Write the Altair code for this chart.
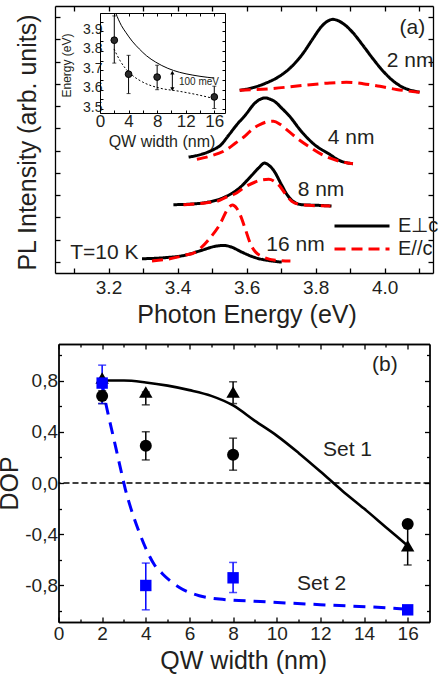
import altair as alt
import pandas as pd

FONT = "Liberation Sans"
INK = "#231f20"
RED = "#ff0000"
BLUE = "#0000ff"

# ================= Panel (a): PL spectra =================
POL = ["E\u22a5c", "E//c"]

E_2_PERP = [3.580, 3.618, 3.657, 3.696, 3.734, 3.763, 3.792, 3.816, 3.836, 3.850,
            3.865, 3.884, 3.908, 3.937, 3.966, 3.995, 4.024, 4.053, 4.082, 4.101]
I_2_PERP = [7.71, 7.83, 8.04, 8.35, 8.83, 9.36, 10.03, 10.56, 10.83, 10.90,
            10.84, 10.66, 10.30, 9.73, 9.13, 8.58, 8.14, 7.84, 7.69, 7.63]
E_2_PAR = [3.580, 3.667, 3.763, 3.841, 3.889, 3.937, 3.986, 4.034, 4.101]
I_2_PAR = [7.71, 7.78, 7.93, 8.04, 8.07, 8.01, 7.89, 7.75, 7.62]

E_4_PERP = [3.432, 3.461, 3.499, 3.525, 3.548, 3.571, 3.596, 3.625, 3.641, 3.654,
            3.667, 3.683, 3.701, 3.722, 3.760, 3.799, 3.838, 3.867, 3.908]
I_4_PERP = [4.71, 4.80, 5.01, 5.25, 5.69, 6.15, 6.59, 7.15, 7.32, 7.37,
            7.32, 7.19, 6.92, 6.59, 5.84, 5.24, 4.86, 4.57, 4.41]
E_4_PAR = [3.456, 3.496, 3.538, 3.568, 3.596, 3.617, 3.640, 3.658, 3.678, 3.698,
           3.724, 3.751, 3.778, 3.826, 3.867, 3.908]
I_4_PAR = [4.61, 4.76, 5.01, 5.34, 5.66, 5.97, 6.18, 6.29, 6.32, 6.17,
           5.84, 5.50, 5.21, 4.76, 4.53, 4.41]

E_8_PERP = [3.388, 3.441, 3.490, 3.538, 3.577, 3.615, 3.635, 3.652, 3.664, 3.678,
            3.702, 3.716, 3.731, 3.760, 3.809, 3.846]
I_8_PERP = [2.57, 2.60, 2.69, 2.92, 3.29, 3.89, 4.22, 4.44, 4.35, 4.12,
            3.44, 3.05, 2.77, 2.57, 2.54, 2.51]
E_8_PAR = [3.417, 3.480, 3.514, 3.543, 3.567, 3.596, 3.625, 3.643, 3.664, 3.683,
           3.696, 3.707, 3.731, 3.754, 3.780, 3.843]
I_8_PAR = [2.57, 2.65, 2.72, 2.92, 3.06, 3.37, 3.59, 3.68, 3.71, 3.59,
           3.41, 3.17, 2.72, 2.58, 2.54, 2.51]

E_16_PERP = [3.297, 3.364, 3.422, 3.470, 3.509, 3.533, 3.557, 3.586, 3.625, 3.673, 3.702]
I_16_PERP = [0.14, 0.19, 0.30, 0.52, 0.70, 0.74, 0.66, 0.44, 0.19, 0.04, -0.01]
E_16_PAR = [3.326, 3.374, 3.422, 3.450, 3.470, 3.490, 3.521, 3.548, 3.559, 3.571,
            3.582, 3.596, 3.611, 3.626, 3.644, 3.683, 3.727]
I_16_PAR = [0.04, 0.13, 0.30, 0.42, 0.66, 1.00, 1.64, 2.43, 2.56, 2.42,
            2.09, 1.49, 0.82, 0.44, 0.25, 0.07, 0.04]

A_TICKS_X = [3.1, 3.2, 3.3, 3.4, 3.5, 3.6, 3.7, 3.8, 3.9, 4.0, 4.1]
A_TICKS_Y = [0, 1, 2, 3, 4, 5, 6, 7, 8, 9, 10, 11]

A_TEXT = ["2 nm", "4 nm", "8 nm", "16 nm", "T=10 K", "(a)"]
A_TEXT_E = [4.006, 3.835, 3.748, 3.657, 3.089, 4.043]
A_TEXT_I = [9.03, 5.57, 3.23, 0.76, 0.40, 10.51]

# ----- inset: transition energy vs QW width -----
I_QW = [2, 4, 8, 16]
I_E = [3.855, 3.68, 3.665, 3.563]
I_LO = [3.737, 3.58, 3.60, 3.503]
I_HI = [3.98, 3.777, 3.726, 3.618]
I_FIT_X = [2.2, 2.6, 3.0, 3.6, 4.5, 5.5, 6.5, 7.8, 9.5, 11.1, 13.0, 15.0, 16.0]
I_FIT_Y = [3.995, 3.96, 3.93, 3.896, 3.85, 3.81, 3.775, 3.742, 3.71, 3.69, 3.675, 3.664, 3.66]
I_SHIFT_X = [1.96, 2.8, 3.6, 4.5, 5.94, 8.27, 11.08, 13.9, 16.0]
I_SHIFT_Y = [3.81, 3.75, 3.708, 3.675, 3.64, 3.609, 3.592, 3.572, 3.554]
I_ARROW_X = [10.13]
I_ARROW_LO = [3.603]
I_ARROW_HI = [3.688]
I_NOTE = ["100 meV"]
I_NOTE_X = [11.06]
I_NOTE_Y = [3.640]
I_TICKS_X = [0, 2, 4, 6, 8, 10, 12, 14, 16]
I_TICKS_Y = [3.5, 3.55, 3.6, 3.65, 3.7, 3.75, 3.8, 3.85, 3.9, 3.95]

# ================= Panel (b): DOP =================
B_QW = [2, 4, 8, 16]
B_CIRC = [0.68, 0.29, 0.22, -0.32]
B_TRI = [0.82, 0.71, 0.71, -0.49]
B_SQ = [0.78, -0.80, -0.74, -0.99]

B_CIRC_ERR_X = [2, 4, 8]
B_CIRC_LO = [0.62, 0.18, 0.10]
B_CIRC_HI = [0.72, 0.40, 0.35]
B_TRI_ERR_X = [4, 8, 16]
B_TRI_LO = [0.61, 0.62, -0.64]
B_TRI_HI = [0.71, 0.79, -0.34]
B_SQ_ERR_X = [2, 4, 8]
B_SQ_LO = [0.62, -0.99, -0.855]
B_SQ_HI = [0.92, -0.625, -0.62]

B_FIT1_X = [2, 3, 4, 5, 6, 7, 8, 9, 10, 11, 12, 13, 14, 15, 16]
B_FIT1_Y = [0.80, 0.80, 0.785, 0.76, 0.725, 0.68, 0.605, 0.485, 0.37, 0.235, 0.09,
            -0.06, -0.20, -0.345, -0.49]
B_FIT2_X = [2.0, 2.1, 2.31, 2.5, 2.7, 2.9, 3.06, 3.32, 3.70, 4.08, 4.4, 4.77, 5.54,
            6.45, 7.37, 9.25, 12.0, 15.2, 16.0]
B_FIT2_Y = [0.78, 0.68, 0.51, 0.37, 0.22, 0.07, -0.047, -0.20, -0.385, -0.54, -0.64,
            -0.71, -0.815, -0.88, -0.906, -0.925, -0.95, -0.976, -0.985]

B_TICKS_X_MAJOR = [0, 2, 4, 6, 8, 10, 12, 14, 16]
B_TICKS_X_MINOR = [1, 3, 5, 7, 9, 11, 13, 15]
B_TICKS_Y_MAJOR = [-0.8, -0.4, 0.0, 0.4, 0.8]
B_TICKS_Y_MINOR = [-1.0, -0.6, -0.2, 0.2, 0.6, 1.0]
B_ZERO = [0.0]

B_TEXT = ["Set 1", "Set 2", "(b)"]
B_TEXT_X = [12.12, 10.93, 14.37]
B_TEXT_Y = [0.256, -0.787, 0.919]

# ================= helpers =================
W_A, H_A = 378, 267
W_B, H_B = 371, 278


def sc(domain, rng=None):
    if rng is None:
        return alt.Scale(domain=domain, nice=False, zero=False)
    return alt.Scale(domain=domain, range=rng, nice=False, zero=False)


def ax(**kw):
    base = dict(domainColor="black", domainWidth=1.3, tickColor="black", tickWidth=1.3,
                grid=False, labelFont=FONT, labelColor=INK, titleFont=FONT,
                titleColor=INK, titleFontWeight="normal", labelFlush=False,
                labelOverlap=False)
    base.update(kw)
    return alt.Axis(**base)


def frame(data, xf, yf, xs, ys, xax, yax):
    return alt.Chart(data).mark_point(opacity=0).encode(
        x=alt.X(xf, scale=xs, axis=xax), y=alt.Y(yf, scale=ys, axis=yax))


# ================= build panel (a) =================
rows = []
for name, pol, E, I in [("2", POL[0], E_2_PERP, I_2_PERP), ("2", POL[1], E_2_PAR, I_2_PAR),
                        ("4", POL[0], E_4_PERP, I_4_PERP), ("4", POL[1], E_4_PAR, I_4_PAR),
                        ("8", POL[0], E_8_PERP, I_8_PERP), ("8", POL[1], E_8_PAR, I_8_PAR),
                        ("16", POL[0], E_16_PERP, I_16_PERP), ("16", POL[1], E_16_PAR, I_16_PAR)]:
    for k, (e, i) in enumerate(zip(E, I)):
        rows.append(dict(curve=name + pol, pol=pol, E=e, I=i, k=k))
df_a = pd.DataFrame(rows)

XA = [3.045, 4.14]
YA = [-0.5, 11.5]
XI = [0, 17.5]
YI = [3.48, 3.995]
XI_R = [45, 170]
YI_R = [107, 7]

leg = alt.Legend(orient="none", legendX=294.5, legendY=207.5, title=None,
                 symbolType="M-2.5,0H2.5", symbolSize=484, symbolStrokeWidth=3,
                 labelOffset=23.5, rowPadding=0, padding=0, labelFont=FONT,
                 labelFontSize=20, labelColor=INK, symbolOffset=0)


def spectra(pol):
    return alt.Chart(df_a).transform_filter(alt.datum.pol == pol).mark_line(
        strokeWidth=3, interpolate="monotone").encode(
        x=alt.X("E:Q", scale=sc(XA), axis=None),
        y=alt.Y("I:Q", scale=sc(YA), axis=None),
        color=alt.Color("pol:N", scale=alt.Scale(domain=POL, range=["#000000", RED]), legend=leg),
        strokeDash=alt.StrokeDash("pol:N", scale=alt.Scale(domain=POL, range=[[1, 0], [11, 6]]),
                                  legend=leg),
        detail="curve:N", order="k:Q")


NEG5 = {"expr": "-5"}
NEG3 = {"expr": "-3"}

a_axes1 = frame(df_a, "E:Q", "I:Q", sc(XA), sc(YA),
                ax(orient="bottom", values=A_TICKS_X, tickSize=NEG5,
                   labelExpr="round(datum.value*10)%2==0 ? format(datum.value,'.1f') : ''",
                   labelFontSize=19, labelPadding=10, title="Photon Energy (eV)",
                   titleFontSize=25, titleX=191.5, titleY=49.5, titleBaseline="alphabetic",
                   titleAlign="center"),
                ax(orient="left", values=A_TICKS_Y, tickSize=NEG5, labels=False,
                   title="PL Intensity (arb. units)", titleFontSize=25, titleX=-19.3,
                   titleY=136, titleAngle=270, titleBaseline="alphabetic", titleAlign="center"))
a_axes2 = frame(df_a, "E:Q", "I:Q", sc(XA), sc(YA),
                ax(orient="top", values=A_TICKS_X, tickSize=NEG5, labels=False, title=None),
                ax(orient="right", values=A_TICKS_Y, tickSize=NEG5, labels=False, title=None))

df_at = pd.DataFrame({"t": A_TEXT, "E": A_TEXT_E, "I": A_TEXT_I})
a_text = alt.Chart(df_at).mark_text(align="left", baseline="middle", font=FONT, fontSize=21,
                                     color=INK).encode(
    x=alt.X("E:Q", scale=sc(XA), axis=None), y=alt.Y("I:Q", scale=sc(YA), axis=None), text="t:N")

# inset
df_ip = pd.DataFrame({"q": I_QW, "e": I_E, "lo": I_LO, "hi": I_HI})
df_if = pd.DataFrame({"q": I_FIT_X, "e": I_FIT_Y})
df_is = pd.DataFrame({"q": I_SHIFT_X, "e": I_SHIFT_Y})
df_ia = pd.DataFrame({"q": I_ARROW_X, "lo": I_ARROW_LO, "hi": I_ARROW_HI})
df_in = pd.DataFrame({"q": I_NOTE_X, "e": I_NOTE_Y, "t": I_NOTE})


def ixs():
    return sc(XI, XI_R)


def iys():
    return sc(YI, YI_R)


i_axes1 = frame(df_ip, "q:Q", "e:Q", ixs(), iys(),
                ax(orient="bottom", offset=-160, values=I_TICKS_X, tickSize=NEG3, domainWidth=1,
                   tickWidth=1, labelExpr="datum.value % 4 == 0 ? datum.label : ''",
                   labelFontSize=17, labelPadding=3.5, title="QW width (nm)", titleFontSize=16,
                   titleX=106.5, titleY=33.5, titleBaseline="alphabetic", titleAlign="center"),
                ax(orient="left", offset=-45, values=I_TICKS_Y, tickSize=NEG3, domainWidth=1,
                   tickWidth=1,
                   labelExpr="round(datum.value*100) % 10 == 0 ? format(datum.value,'.1f') : ''",
                   labelFontSize=14, labelPadding=1, labelOffset=-2, title="Energy (eV)",
                   titleFontSize=12, titleX=-29.5, titleY=59, titleAngle=270,
                   titleBaseline="alphabetic", titleAlign="center"))
i_axes2 = frame(df_ip, "q:Q", "e:Q", ixs(), iys(),
                ax(orient="top", offset=-7, values=I_TICKS_X, tickSize=NEG3, domainWidth=1,
                   tickWidth=1, labels=False, title=None),
                ax(orient="right", offset=-208, values=I_TICKS_Y, tickSize=NEG3, domainWidth=1,
                   tickWidth=1, labels=False, title=None))

i_fit = alt.Chart(df_if).mark_line(color="black", strokeWidth=1, interpolate="monotone").encode(
    x=alt.X("q:Q", scale=ixs(), axis=None), y=alt.Y("e:Q", scale=iys(), axis=None))
i_shift = alt.Chart(df_is).mark_line(color="black", strokeWidth=1, strokeDash=[2, 2],
                                      interpolate="monotone").encode(
    x=alt.X("q:Q", scale=ixs(), axis=None), y=alt.Y("e:Q", scale=iys(), axis=None))
i_err = alt.Chart(df_ip).mark_rule(color="black", strokeWidth=1).encode(
    x=alt.X("q:Q", scale=ixs(), axis=None), y=alt.Y("lo:Q", scale=iys(), axis=None), y2="hi:Q")
i_cap_lo = alt.Chart(df_ip).mark_tick(color="black", orient="horizontal", size=4, thickness=1).encode(
    x=alt.X("q:Q", scale=ixs(), axis=None), y=alt.Y("lo:Q", scale=iys(), axis=None))
i_cap_hi = alt.Chart(df_ip).mark_tick(color="black", orient="horizontal", size=4, thickness=1).encode(
    x=alt.X("q:Q", scale=ixs(), axis=None), y=alt.Y("hi:Q", scale=iys(), axis=None))
i_pts = alt.Chart(df_ip).mark_point(shape="circle", filled=True, size=45, color="#2a2a2a",
                                     stroke="black", strokeWidth=1, opacity=1).encode(
    x=alt.X("q:Q", scale=ixs(), axis=None), y=alt.Y("e:Q", scale=iys(), axis=None))
i_arrow = alt.Chart(df_ia).mark_rule(color="black", strokeWidth=1).encode(
    x=alt.X("q:Q", scale=ixs(), axis=None), y=alt.Y("lo:Q", scale=iys(), axis=None), y2="hi:Q")
i_head_up = alt.Chart(df_ia).mark_point(shape="triangle-up", filled=True, size=18, color="black",
                                         opacity=1).encode(
    x=alt.X("q:Q", scale=ixs(), axis=None), y=alt.Y("hi:Q", scale=iys(), axis=None))
i_head_dn = alt.Chart(df_ia).mark_point(shape="triangle-down", filled=True, size=18, color="black",
                                         opacity=1).encode(
    x=alt.X("q:Q", scale=ixs(), axis=None), y=alt.Y("lo:Q", scale=iys(), axis=None))
i_note = alt.Chart(df_in).mark_text(align="left", baseline="middle", font=FONT, fontSize=10,
                                     color=INK).encode(
    x=alt.X("q:Q", scale=ixs(), axis=None), y=alt.Y("e:Q", scale=iys(), axis=None), text="t:N")

top = alt.layer(
    a_axes1, a_axes2, spectra(POL[0]), spectra(POL[1]), a_text,
    i_axes1, i_axes2, i_fit, i_shift, i_err, i_cap_lo, i_cap_hi, i_pts, i_arrow,
    i_head_up, i_head_dn, i_note,
).resolve_scale(x="independent", y="independent").resolve_axis(
    x="independent", y="independent").properties(width=W_A, height=H_A)

# ================= build panel (b) =================
XB = [0, 17]
YB = [-1.085, 1.085]


def bx(f="x:Q"):
    return alt.X(f, scale=sc(XB), axis=None)


def by(f="y:Q"):
    return alt.Y(f, scale=sc(YB), axis=None)


df_frame_b = pd.DataFrame({"x": B_QW, "y": B_CIRC})
b_axes1 = frame(df_frame_b, "x:Q", "y:Q", sc(XB), sc(YB),
                ax(orient="bottom", values=B_TICKS_X_MAJOR, tickSize=NEG5, labelFontSize=19,
                   labelPadding=7.5, title="QW width (nm)", titleFontSize=25, titleX=184.7,
                   titleY=46.7, titleBaseline="alphabetic", titleAlign="center"),
                ax(orient="left", values=B_TICKS_Y_MAJOR, tickSize=NEG5,
                   labelExpr="(datum.value < -0.01 ? '-' : '') + replace(format(abs(datum.value), '.1f'), '.', ',')",
                   labelFontSize=19, labelPadding=6, title="DOP", titleFontSize=25,
                   titleX=-41, titleY=139, titleAngle=270, titleBaseline="alphabetic",
                   titleAlign="center"))
b_axes2 = frame(df_frame_b, "x:Q", "y:Q", sc(XB), sc(YB),
                ax(orient="top", values=B_TICKS_X_MAJOR, tickSize=NEG5, labels=False, title=None),
                ax(orient="right", values=B_TICKS_Y_MAJOR, tickSize=NEG5, labels=False, title=None))
b_axes3 = frame(df_frame_b, "x:Q", "y:Q", sc(XB), sc(YB),
                ax(orient="bottom", values=B_TICKS_X_MINOR, tickSize=NEG3, labels=False, title=None),
                ax(orient="left", values=B_TICKS_Y_MINOR, tickSize=NEG3, labels=False, title=None))
b_axes4 = frame(df_frame_b, "x:Q", "y:Q", sc(XB), sc(YB),
                ax(orient="top", values=B_TICKS_X_MINOR, tickSize=NEG3, labels=False, title=None),
                ax(orient="right", values=B_TICKS_Y_MINOR, tickSize=NEG3, labels=False, title=None))

b_zero = alt.Chart(pd.DataFrame({"y": B_ZERO})).mark_rule(
    color="black", strokeWidth=1.3, strokeDash=[6, 3]).encode(y=by())
b_fit1 = alt.Chart(pd.DataFrame({"x": B_FIT1_X, "y": B_FIT1_Y})).mark_line(
    color="black", strokeWidth=2.6, interpolate="monotone").encode(x=bx(), y=by())
b_fit2 = alt.Chart(pd.DataFrame({"x": B_FIT2_X, "y": B_FIT2_Y})).mark_line(
    color=BLUE, strokeWidth=3, strokeDash=[12, 8], interpolate="monotone").encode(x=bx(), y=by())


def errbars(xs, lo, hi, color):
    d = pd.DataFrame({"x": xs, "lo": lo, "hi": hi})
    r = alt.Chart(d).mark_rule(color=color, strokeWidth=1.5).encode(x=bx(), y=by("lo:Q"), y2="hi:Q")
    c1 = alt.Chart(d).mark_tick(color=color, orient="horizontal", size=8, thickness=1.5).encode(
        x=bx(), y=by("lo:Q"))
    c2 = alt.Chart(d).mark_tick(color=color, orient="horizontal", size=8, thickness=1.5).encode(
        x=bx(), y=by("hi:Q"))
    return [r, c1, c2]


def pts(ys, shape, size, color):
    return alt.Chart(pd.DataFrame({"x": B_QW, "y": ys})).mark_point(
        shape=shape, filled=True, size=size, color=color, opacity=1).encode(x=bx(), y=by())


df_bt = pd.DataFrame({"t": B_TEXT, "x": B_TEXT_X, "y": B_TEXT_Y})
b_text = alt.Chart(df_bt).mark_text(align="left", baseline="middle", font=FONT, fontSize=21,
                                     color=INK).encode(x=bx(), y=by(), text="t:N")

bottom = alt.layer(
    b_axes1, b_axes2, b_axes3, b_axes4, b_zero, b_fit1, b_fit2,
    *errbars(B_CIRC_ERR_X, B_CIRC_LO, B_CIRC_HI, "black"),
    *errbars(B_TRI_ERR_X, B_TRI_LO, B_TRI_HI, "black"),
    *errbars(B_SQ_ERR_X, B_SQ_LO, B_SQ_HI, BLUE),
    pts(B_CIRC, "circle", 144, "black"),
    pts(B_TRI, "triangle-up", 180, "black"),
    pts(B_SQ, "square", 130, BLUE),
    b_text,
).resolve_axis(x="independent", y="independent").properties(width=W_B, height=H_B)

chart = alt.vconcat(top, bottom, spacing=71, center=True, bounds="flush").properties(
    padding={"left": -3, "top": 4, "right": 0, "bottom": 0}
).configure_view(stroke=None).configure(font=FONT)

chart.save("out.html", embed_options={"renderer": "svg", "actions": False})
